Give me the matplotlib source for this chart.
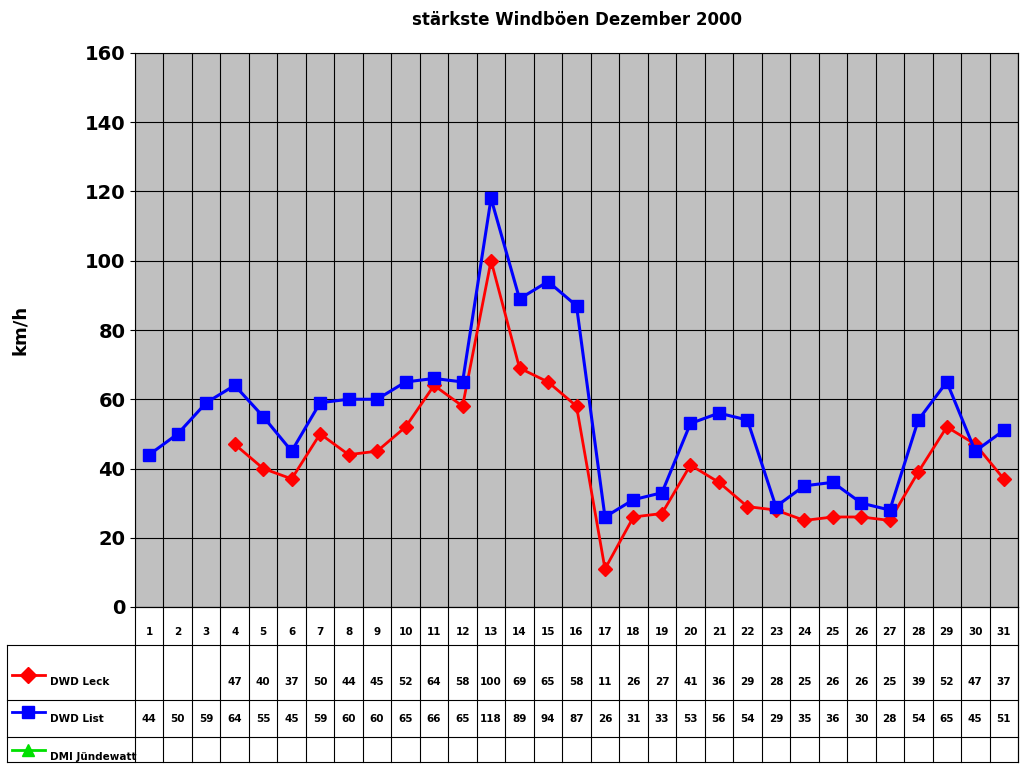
import numpy as np
import matplotlib.pyplot as plt

days = list(range(1, 32))
leck = [None, None, None, 47, 40, 37, 50, 44, 45, 52, 64, 58, 100, 69, 65, 58,
        11, 26, 27, 41, 36, 29, 28, 25, 26, 26, 25, 39, 52, 47, 37]
liste = [44, 50, 59, 64, 55, 45, 59, 60, 60, 65, 66, 65, 118, 89, 94, 87,
         26, 31, 33, 53, 56, 54, 29, 35, 36, 30, 28, 54, 65, 45, 51]
dmi = [None] * 31

W, H = 1024, 768
L, R, T, B = 135, 1018, 53, 607
fig = plt.figure(figsize=(W / 100, H / 100), dpi=100)
ax = fig.add_axes([L / W, 1 - B / H, (R - L) / W, (B - T) / H])
ax.set_facecolor('#c0c0c0')
x = np.arange(31)
leck_a = np.array([np.nan if v is None else v for v in leck], float)
ax.plot(x, leck_a, color='red', marker='D', markersize=7, lw=2)
ax.plot(x, liste, color='blue', marker='s', markersize=8, lw=2.2)
ax.set_xlim(-0.5, 30.5)
ax.set_ylim(0, 160)
ax.set_yticks(range(0, 161, 20))
ax.set_xticks(np.arange(-0.5, 31, 1), minor=False)
ax.set_xticklabels([])
ax.tick_params(axis='x', length=0)
ax.grid(True, color='black', lw=0.8)
ax.set_axisbelow(True)
for lab in ax.get_yticklabels():
    lab.set_fontweight('bold'); lab.set_fontsize(14)
ax.set_ylabel('km/h', fontsize=13, fontweight='bold', labelpad=40)
ax.set_title('stärkste Windböen Dezember 2000', fontsize=12, fontweight='bold', pad=20)

# data table in pixel coordinates
tb = fig.add_axes([0, 0, 1, 1], facecolor='none')
tb.set_xlim(0, W); tb.set_ylim(H, 0); tb.axis('off')
rows = [607, 645, 700, 737, 762]
cw = (R - L) / 31
k = dict(color='black', lw=0.8)
tb.plot([L, R], [rows[0]] * 2, **k)
for y in rows[1:]:
    tb.plot([7, R], [y, y], **k)
tb.plot([7, 7], [rows[1], rows[-1]], **k)
for i in range(32):
    tb.plot([L + i * cw] * 2, [rows[0], rows[-1]], **k)
tb.plot([R, R], [T, rows[-1]], **k)
for i, d in enumerate(days):
    cx = L + (i + 0.5) * cw
    tb.text(cx, 635, str(d), ha='center', fontsize=7.5, fontweight='bold')
    if leck[i] is not None:
        tb.text(cx, 685, str(leck[i]), ha='center', fontsize=7.5, fontweight='bold')
    tb.text(cx, 722, str(liste[i]), ha='center', fontsize=7.5, fontweight='bold')
for y, name, c, m in [(675, 'DWD Leck', 'red', 'D'), (712, 'DWD List', 'blue', 's'),
                      (750, 'DMI Jündewatt', '#00e000', '^')]:
    tb.plot([12, 45], [y, y], color=c, lw=2)
    tb.plot([28], [y], color=c, marker=m, markersize=8)
    tb.text(50, y + 10, name, fontsize=7.5, fontweight='bold')

fig.savefig('out.png', dpi=100)
